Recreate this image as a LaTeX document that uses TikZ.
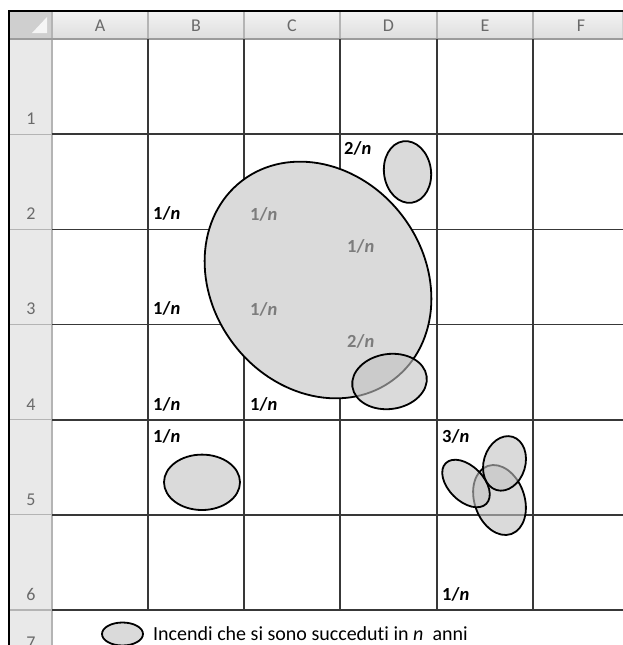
\documentclass[tikz,border=0pt]{standalone}
\usepackage{fontspec}
\setmainfont[Ligatures=NoCommon]{Carlito}
\definecolor{hdrtop}{HTML}{F3F3F3}
\definecolor{hdrbot}{HTML}{DEDEDE}
\definecolor{rowhdr}{HTML}{E9E9E9}
\definecolor{hdrline}{HTML}{B4B4B4}
\definecolor{hdrbase}{HTML}{9C9C9C}
\definecolor{gridc}{HTML}{383838}
\definecolor{fireb}{HTML}{DADADA}
\definecolor{firet}{HTML}{C2C2C2}
\definecolor{lblgray}{HTML}{7C7C7C}
\definecolor{hdrtext}{HTML}{6A6A6A}
\definecolor{corner}{HTML}{CFCFCF}
\begin{document}
\begin{tikzpicture}[x=1pt,y=1pt,
  hdrtxt/.style={text=hdrtext,font=\fontsize{18}{18}\selectfont,inner sep=0pt},
  rowtxt/.style={text=hdrtext,font=\fontsize{18}{18}\selectfont,inner sep=0pt,anchor=base},
  lbl/.style={font=\bfseries\fontsize{18.5}{18.5}\selectfont,inner sep=0pt,anchor=base west},
  lblg/.style={lbl,text=lblgray},
  gridline/.style={draw=gridc,line width=1.6pt},
  hline/.style={draw=hdrline,line width=1.2pt},
  fire/.style={draw=black,line width=1.8pt,fill=fireb},
  firetr/.style={draw=black,line width=1.8pt,fill=firet,fill opacity=0.6}]
\useasboundingbox (0,0) rectangle (623,-645);
\clip (0,0) rectangle (623,-645);
% header backgrounds
\shade[top color=hdrtop,bottom color=hdrbot] (9,-11) rectangle (623,-39);
\fill[rowhdr] (9,-39) rectangle (52,-645);
\fill[corner] (9,-11) rectangle (52,-39);
\fill[white!92!gray] (32,-33) -- (47,-33) -- (47,-17) -- cycle;
% header separators
\foreach \x in {52,148,244,340,437,533} \draw[hline] (\x,-11) -- (\x,-39);
\draw[draw=hdrline!60!white,line width=1pt] (622,-11) -- (622,-39);
\foreach \y in {134.2,229.3,324.5,419.7,514.8,610} \draw[hline] (9,-\y) -- (52,-\y);
\draw[draw=hdrline,line width=1.2pt] (52,-39) -- (52,-645);
\draw[draw=hdrbase,line width=1.5pt] (9,-39) -- (623,-39);
% body grid
\foreach \x in {148,244,340,437,533} \draw[gridline] (\x,-39) -- (\x,-610);
\foreach \y in {134.2,229.3,324.5,419.7,514.8,610} \draw[gridline] (52,-\y) -- (623,-\y);
% outer border
\draw[black,line width=2pt] (8,-11) -- (623,-11);
\draw[black,line width=2pt] (9,-10) -- (9,-645);
% column letters
\node[hdrtxt] (cA) at (100,-26) {A};
\node[hdrtxt] (cB) at (196,-26) {B};
\node[hdrtxt] (cC) at (292,-26) {C};
\node[hdrtxt] (cD) at (388.5,-26) {D};
\node[hdrtxt] (cE) at (485,-26) {E};
\node[hdrtxt] (cF) at (581,-26) {F};
% row numbers
\node[rowtxt] (r1) at (31,-124.5) {1};
\node[rowtxt] (r2) at (31,-219.5) {2};
\node[rowtxt] (r3) at (31,-314.5) {3};
\node[rowtxt] (r4) at (31,-410) {4};
\node[rowtxt] (r5) at (31,-505) {5};
\node[rowtxt] (r6) at (31,-600) {6};
\node[rowtxt] (r7) at (31,-648) {7};
% fires
\filldraw[fire,rotate around={-52.6:(318,-280)}] (318,-280) ellipse [x radius=125pt,y radius=106pt];
\filldraw[fire,rotate around={8:(407.5,-172)}] (407.5,-172) ellipse [x radius=23.5pt,y radius=31pt];
\filldraw[firetr,rotate around={8:(389.5,-381.5)}] (389.5,-381.5) ellipse [x radius=37.5pt,y radius=27.5pt];
\filldraw[fire] (202,-482.3) ellipse [x radius=38pt,y radius=27.7pt];
\filldraw[firetr,rotate around={19:(499.5,-500)}] (499.5,-500) ellipse [x radius=25pt,y radius=36pt];
\filldraw[firetr,rotate around={-45:(466,-483.5)}] (466,-483.5) ellipse [x radius=28.7pt,y radius=17.5pt];
\filldraw[firetr,rotate around={-17:(504.5,-463.4)}] (504.5,-463.4) ellipse [x radius=20.8pt,y radius=27.8pt];
% labels
\node[lbl]  (lB2) at (153,-219) {1/\textit{n}};
\node[lblg] (lC2) at (250,-220) {1/\textit{n}};
\node[lbl]  (lD2) at (344,-154) {2/\textit{n}};
\node[lblg] (lD3) at (347,-252) {1/\textit{n}};
\node[lbl]  (lB3) at (153,-314) {1/\textit{n}};
\node[lblg] (lC3) at (250,-315) {1/\textit{n}};
\node[lblg] (lD4) at (347,-347) {2/\textit{n}};
\node[lbl]  (lB4) at (153,-410) {1/\textit{n}};
\node[lbl]  (lC4) at (250,-410) {1/\textit{n}};
\node[lbl]  (lB5) at (153,-442) {1/\textit{n}};
\node[lbl]  (lE5) at (442,-442) {3/\textit{n}};
\node[lbl]  (lE6) at (442,-600) {1/\textit{n}};
% legend
\filldraw[fire] (122.5,-634) ellipse [x radius=20.5pt,y radius=11.5pt];
\node[font=\fontsize{20}{20}\selectfont,inner sep=0pt,anchor=base west] (leg) at (153,-640) {Incendi che si sono succeduti in \textit{n}\ \ anni};
\end{tikzpicture}
\end{document}
